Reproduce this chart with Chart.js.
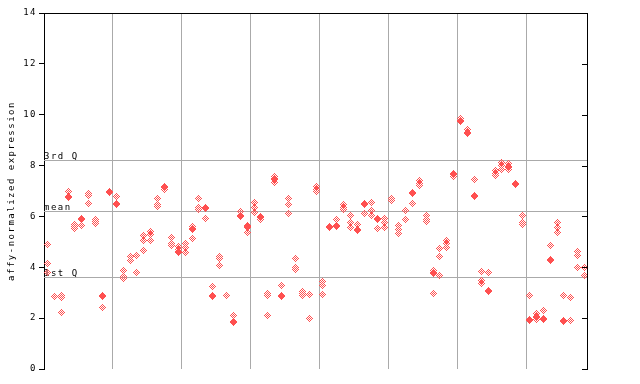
<!DOCTYPE html>
<html><head><meta charset="utf-8">
<script src="https://cdn.jsdelivr.net/npm/chart.js@4/dist/chart.umd.min.js"></script>
<style>html,body{margin:0;padding:0;background:#fff;}</style>
</head><body>
<canvas id="c" width="640" height="384"></canvas>
<script>
// replicate values per sample column (null = no replicate)
const rep1 = [4.88, 2.87, 2.9, 7.0, 5.68, 5.9, 6.89, 5.89, 2.91, 6.98,
  6.8, 3.86, 4.44, 4.48, 5.26, 5.42, 6.69, 7.17, 5.18, 4.82,
  4.95, 5.59, 6.72, 6.37, 3.23, 4.41, 2.91, 2.12, 6.18, 5.64,
  6.56, 5.98, 2.98, 7.57, 3.3, 6.72, 4.36, 3.04, 2.94, 7.17,
  3.46, 5.61, 5.86, 6.46, 6.05, 5.7, 6.5, 6.54, 5.9, 5.93,
  6.71, 5.66, 6.25, 6.96, 7.4, 6.02, 3.87, 4.75, 5.05, 7.68,
  9.84, 9.4, 7.47, 3.85, 3.81, 7.8, 8.13, 8.07, 7.28, 6.05,
  2.91, 2.2, 2.32, 4.84, 5.76, 2.91, 2.82, 4.64, 4.0];
const rep2 = [4.16, null, 2.82, 6.78, 5.6, 5.86, 6.82, 5.81, 2.87, 6.93,
  6.5, 3.63, 4.27, 3.8, 5.07, 5.28, 6.46, 7.13, 4.94, 4.68,
  4.79, 5.53, 6.36, 6.33, 2.91, 4.33, null, 1.88, 6.05, 5.59,
  6.36, 5.94, 2.91, 7.49, 2.91, 6.48, 3.99, 2.96, 1.99, 7.07,
  3.3, 5.57, 5.66, 6.36, 5.78, 5.47, 6.46, 6.22, 5.86, 5.77,
  6.62, 5.5, 5.89, 6.92, 7.31, 5.86, 3.8, 4.43, 4.95, 7.64,
  9.78, 9.32, 6.84, 3.48, 3.07, 7.7, 7.99, 7.95, 7.24, 5.76,
  1.93, 2.06, 1.97, 4.31, 5.55, 1.92, 1.89, 4.45, 3.69];
const rep3 = [3.79, null, 2.23, 6.74, 5.53, 5.64, 6.49, 5.73, 2.4, null,
  6.46, 3.57, null, null, 4.67, 5.07, 6.39, 7.05, 4.87, 4.64,
  4.59, 5.49, 6.28, 5.93, 2.87, 4.08, null, 1.84, 6.01, 5.55,
  6.17, 5.89, 2.09, 7.45, 2.85, 6.13, 3.9, 2.88, null, 6.98,
  2.94, null, 5.62, 6.27, 5.57, 5.43, 6.13, 6.05, 5.54, 5.58,
  null, 5.34, null, 6.52, 7.2, 5.82, 3.76, 3.69, 4.79, 7.58,
  9.74, 9.28, 6.77, 3.37, 3.03, 7.61, 7.84, 7.91, null, 5.69,
  1.89, 2.02, 1.93, 4.26, 5.37, 1.88, null, 4.0, null];
const rep4 = [null, null, null, null, null, null, null, null, null, null,
  null, null, null, null, null, null, null, null, null, 4.57,
  null, 5.15, null, null, null, null, null, null, null, 5.38,
  null, null, null, 7.35, null, null, null, null, null, null,
  null, null, null, null, null, null, null, null, null, null,
  null, null, null, null, null, null, 2.98, null, null, null,
  null, null, null, null, null, null, null, 7.84, null, null,
  null, 1.93, null, null, null, null, null, null, null];

const yTicks = [0, 2, 4, 6, 8, 10, 12, 14];
const xGridAt = [10, 20, 30, 40, 50, 60, 70];
const refValues = [8.22, 6.21, 3.61];
const refLabels = ['3rd Q', 'mean', '1st Q'];
const yTitle = 'affy-normalized expression';
const nSamples = rep1.length;

const gridGray = '#aaaaaa';
const pointRed = 'rgb(255,80,80)';
const FONT = '"DejaVu Sans Mono", monospace';

function hatchedDiamond(color) {
  const c = document.createElement('canvas');
  c.width = 7; c.height = 7;
  const g = c.getContext('2d');
  g.fillStyle = color;
  for (let i = 0; i < 7; i++) for (let j = 0; j < 7; j++) {
    if (Math.abs(i - 3) + Math.abs(j - 3) <= 3 && (i + j) % 2 === 1) g.fillRect(i, j, 1, 1);
  }
  return c;
}
const marker = hatchedDiamond(pointRed);

function toPoints(rep) {
  const out = [];
  rep.forEach((v, k) => { if (v !== null) out.push({ x: k + 0.5, y: v }); });
  return out;
}
const datasets = [rep1, rep2, rep3, rep4].map(r => ({
  data: toPoints(r), pointStyle: marker, pointRadius: 3.5, pointHoverRadius: 3.5
}));

const frame = {
  id: 'frame',
  beforeDraw(chart) { chart.ctx.letterSpacing = '1.5px'; },
  beforeDatasetsDraw(chart) {
    const { ctx, chartArea: a, scales: { y } } = chart;
    ctx.save();
    ctx.strokeStyle = gridGray; ctx.lineWidth = 1;
    refValues.forEach(v => {
      const py = Math.round(y.getPixelForValue(v)) + 0.5;
      ctx.beginPath(); ctx.moveTo(a.left, py); ctx.lineTo(a.right, py); ctx.stroke();
    });
    ctx.fillStyle = '#000'; ctx.font = '9px ' + FONT; ctx.letterSpacing = '1.5px';
    ctx.textAlign = 'left'; ctx.textBaseline = 'alphabetic';
    refValues.forEach((v, i) => {
      const py = Math.round(y.getPixelForValue(v));
      ctx.fillText(refLabels[i], a.left, py - 1);
    });
    ctx.restore();
    ctx.imageSmoothingEnabled = false;
  },
  afterDraw(chart) {
    const { ctx, chartArea: a, scales: { y } } = chart;
    ctx.save();
    ctx.strokeStyle = '#000'; ctx.lineWidth = 1;
    ctx.beginPath();
    ctx.moveTo(a.left, a.top + 0.5); ctx.lineTo(a.right, a.top + 0.5);
    ctx.moveTo(a.right - 0.5, a.top); ctx.lineTo(a.right - 0.5, a.bottom);
    yTicks.forEach(v => {
      const py = Math.round(y.getPixelForValue(v)) + 0.5;
      ctx.moveTo(a.right - 6, py); ctx.lineTo(a.right, py);
    });
    ctx.stroke();
    ctx.translate(12, (a.top + a.bottom) / 2);
    ctx.rotate(-Math.PI / 2);
    ctx.fillStyle = '#000'; ctx.font = '9px ' + FONT; ctx.letterSpacing = '1.5px';
    ctx.textAlign = 'center'; ctx.textBaseline = 'middle';
    ctx.fillText(yTitle, 0, 0);
    ctx.restore();
  }
};

new Chart(document.getElementById('c'), {
  type: 'scatter',
  data: { datasets },
  plugins: [frame],
  options: {
    responsive: false, animation: false, devicePixelRatio: 1,
    layout: { padding: { left: 0, right: 52, top: 13, bottom: 15 } },
    plugins: { legend: { display: false }, tooltip: { enabled: false } },
    scales: {
      x: {
        type: 'linear', min: 0, max: nSamples,
        afterBuildTicks: s => { s.ticks = xGridAt.map(v => ({ value: v })); },
        afterFit: s => { s.height = 0; },
        grid: { color: gridGray, drawTicks: false },
        border: { display: false },
        ticks: { display: false }
      },
      y: {
        min: 0, max: 14,
        afterBuildTicks: s => { s.ticks = yTicks.map(v => ({ value: v })); },
        afterFit: s => { s.width = 44; },
        grid: { drawOnChartArea: false, drawTicks: true, tickLength: 5, color: '#000' },
        border: { display: true, color: '#000', width: 1 },
        ticks: { color: '#000', font: { family: FONT, size: 9 }, padding: 2 }
      }
    }
  }
});
</script>
</body></html>
